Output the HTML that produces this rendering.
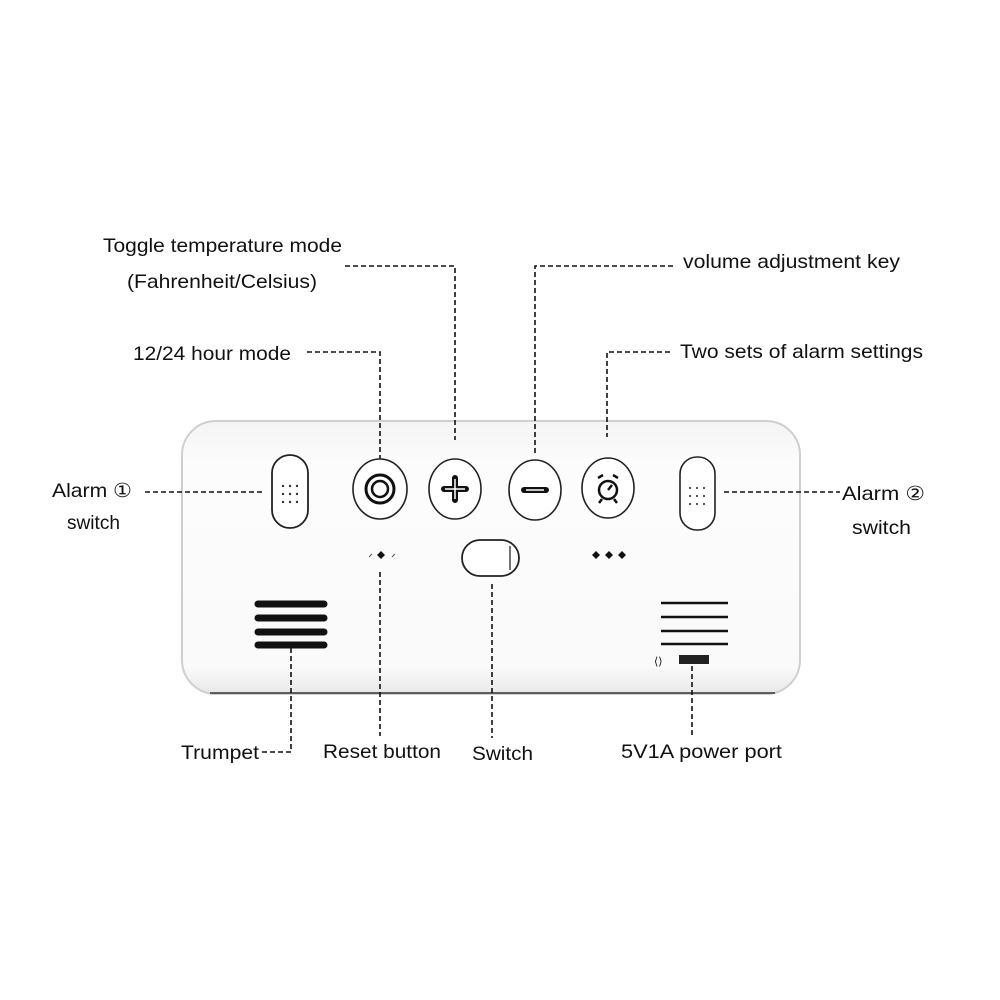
<!DOCTYPE html>
<html><head><style>
html,body{margin:0;padding:0;background:#fff;}
svg{display:block;}
text{font-family:"Liberation Sans",sans-serif;font-size:19.5px;fill:#111;}
</style></head><body>
<svg width="1000" height="1000" viewBox="0 0 1000 1000" xmlns="http://www.w3.org/2000/svg">
<defs>
<linearGradient id="bg" x1="0" y1="0" x2="0" y2="1">
<stop offset="0" stop-color="#f4f4f4"/><stop offset="0.15" stop-color="#fcfcfc"/><stop offset="0.9" stop-color="#fafafa"/><stop offset="1" stop-color="#e8e8e8"/>
</linearGradient>
</defs>
<rect x="182" y="421" width="618" height="273" rx="34" fill="url(#bg)" stroke="#cfcfcf" stroke-width="2"/>
<path d="M210 693 L775 693" stroke="#333" stroke-width="1.5"/>

<g stroke="#111" stroke-width="1.6" stroke-dasharray="5,3" fill="none">
<path d="M307 352 H380 V460"/>
<path d="M345 266 H455 V440"/>
<path d="M673 266 H535 V455"/>
<path d="M670 352 H607 V437"/>
<path d="M145 492 H264"/>
<path d="M724 492 H840"/>
<path d="M262 752 H291 V648"/>
<path d="M380 572 V736"/>
<path d="M492 584 V738"/>
<path d="M692 666 V735"/>
</g>

<rect x="272" y="455" width="36" height="73" rx="18" fill="#fff" stroke="#222" stroke-width="1.8"/>
<g fill="#333"><circle cx="283" cy="486" r="1.2"/><circle cx="290" cy="486" r="1.2"/><circle cx="297" cy="486" r="1.2"/><circle cx="283" cy="494" r="1.2"/><circle cx="290" cy="494" r="1.2"/><circle cx="297" cy="494" r="1.2"/><circle cx="283" cy="502" r="1.2"/><circle cx="290" cy="502" r="1.2"/><circle cx="297" cy="502" r="1.2"/></g>
<rect x="680" y="457" width="35" height="73" rx="17" fill="#fff" stroke="#222" stroke-width="1.6"/>
<g fill="#444"><circle cx="690" cy="488" r="1.1"/><circle cx="697" cy="488" r="1.1"/><circle cx="704" cy="488" r="1.1"/><circle cx="690" cy="496" r="1.1"/><circle cx="697" cy="496" r="1.1"/><circle cx="704" cy="496" r="1.1"/><circle cx="690" cy="504" r="1.1"/><circle cx="697" cy="504" r="1.1"/><circle cx="704" cy="504" r="1.1"/></g>

<g fill="#fff" stroke="#222" stroke-width="1.6">
<ellipse cx="380" cy="489" rx="27" ry="30"/>
<ellipse cx="455" cy="489" rx="26" ry="30"/>
<ellipse cx="535" cy="490" rx="26" ry="30"/>
<ellipse cx="608" cy="488" rx="26" ry="30"/>
</g>
<circle cx="380" cy="489" r="14" fill="none" stroke="#111" stroke-width="3"/>
<circle cx="380" cy="489" r="8" fill="none" stroke="#111" stroke-width="2.5"/>
<path d="M444 489 H466 M455 478 V500" stroke="#111" stroke-width="6" stroke-linecap="round"/>
<path d="M445 489 H465 M455 479 V499" stroke="#fff" stroke-width="1.5"/>
<path d="M524 490 H546" stroke="#111" stroke-width="6" stroke-linecap="round"/>
<path d="M526 490 H544" stroke="#fff" stroke-width="1.5"/>
<circle cx="608" cy="490" r="9" fill="none" stroke="#111" stroke-width="2.5"/>
<path d="M598 478 l5 -3 M618 478 l-5 -3 M602 499 l-3 4 M614 499 l3 4 M608 490 l4 -5" stroke="#111" stroke-width="2.5"/>

<rect x="462" y="540" width="57" height="36" rx="18" fill="#fff" stroke="#222" stroke-width="1.8"/>
<path d="M510 546 V570" stroke="#444" stroke-width="1.5"/>

<g fill="#111">
<path d="M381 551 l4 4 -4 4 -4 -4z"/>
<path d="M596 551 l4 4 -4 4 -4 -4z"/><path d="M609 551 l4 4 -4 4 -4 -4z"/><path d="M622 551 l4 4 -4 4 -4 -4z"/>
</g>
<path d="M369 557 l3 -3 M392 557 l3 -3" stroke="#555" stroke-width="1"/>

<g stroke="#111" stroke-width="7" stroke-linecap="round">
<path d="M258 604 H324"/><path d="M258 618 H324"/><path d="M258 632 H324"/><path d="M258 645 H324"/>
</g>
<g stroke="#111" stroke-width="2.5" fill="none">
<path d="M661 603 H728"/><path d="M661 617 H728"/><path d="M661 631 H728"/><path d="M661 644 H728"/>
</g>
<rect x="679" y="655" width="30" height="9" fill="#222"/>
<text x="654" y="665" style="font-size:11px">⟨⟩</text>

<g lengthAdjust="spacingAndGlyphs">
<text x="103" y="252" textLength="239" lengthAdjust="spacingAndGlyphs">Toggle temperature mode</text>
<text x="127" y="288" textLength="190" lengthAdjust="spacingAndGlyphs">(Fahrenheit/Celsius)</text>
<text x="133" y="360" textLength="158" lengthAdjust="spacingAndGlyphs">12/24 hour mode</text>
<text x="683" y="268" textLength="217" lengthAdjust="spacingAndGlyphs">volume adjustment key</text>
<text x="680" y="358" textLength="243" lengthAdjust="spacingAndGlyphs">Two sets of alarm settings</text>
<text x="52" y="497" textLength="80" lengthAdjust="spacingAndGlyphs">Alarm ①</text>
<text x="67" y="529" textLength="53" lengthAdjust="spacingAndGlyphs">switch</text>
<text x="842" y="500" textLength="83" lengthAdjust="spacingAndGlyphs">Alarm ②</text>
<text x="852" y="534" textLength="59" lengthAdjust="spacingAndGlyphs">switch</text>
<text x="181" y="759" textLength="78" lengthAdjust="spacingAndGlyphs">Trumpet</text>
<text x="323" y="758" textLength="118" lengthAdjust="spacingAndGlyphs">Reset button</text>
<text x="472" y="760" textLength="61" lengthAdjust="spacingAndGlyphs">Switch</text>
<text x="621" y="758" textLength="161" lengthAdjust="spacingAndGlyphs">5V1A power port</text>
</g>
</svg>
</body></html>
